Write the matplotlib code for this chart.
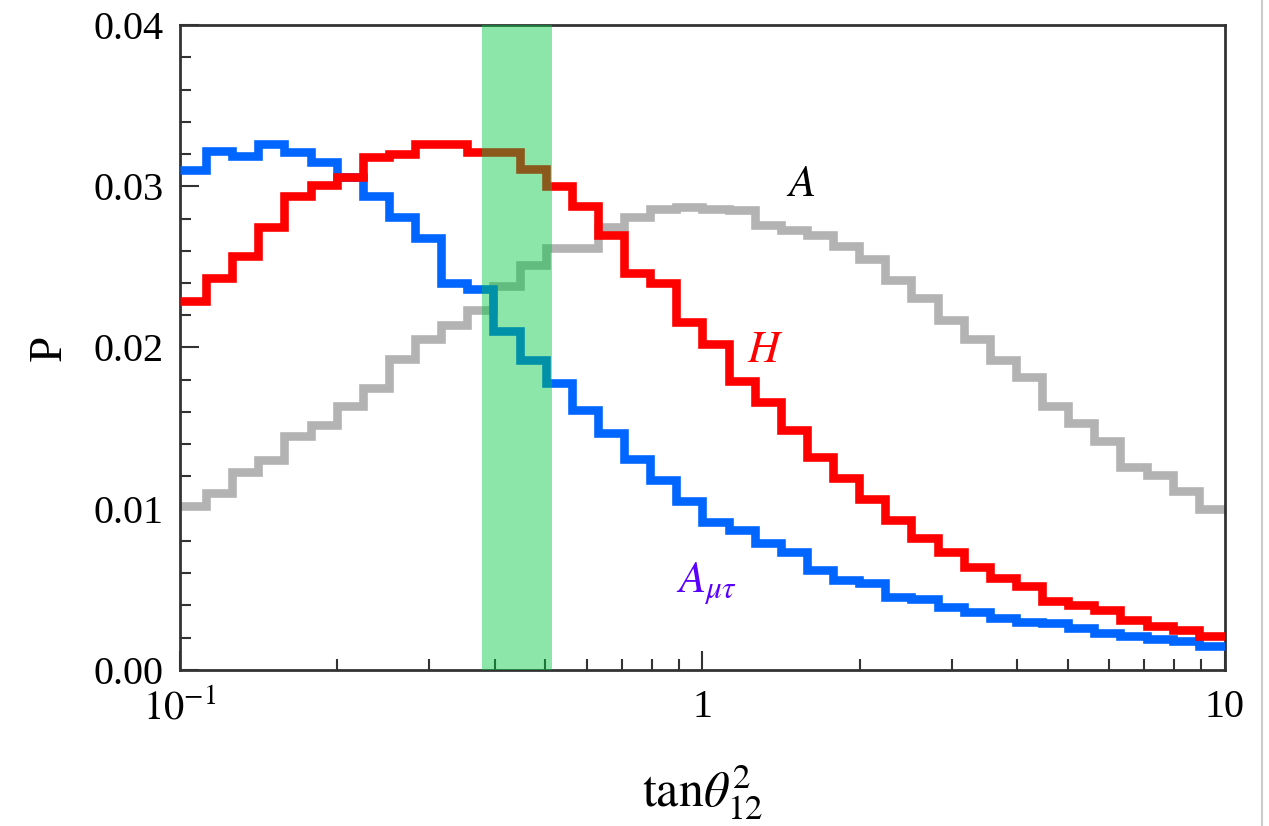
import numpy as np
import matplotlib
matplotlib.use("Agg")
from matplotlib import pyplot as plt
from matplotlib.ticker import FixedLocator, MultipleLocator, LogLocator, NullFormatter

plt.rcParams['font.family'] = ['Liberation Serif', 'DejaVu Serif']
plt.rcParams['mathtext.fontset'] = 'stix'

# histogram bins: 40 log-spaced bins from 0.1 to 10
bin_edges = np.logspace(-1, 1, 41)

A_mutau = [0.0310, 0.0322, 0.0319, 0.0326, 0.0321, 0.0315, 0.0306, 0.0294, 0.0281, 0.0268,
           0.0240, 0.0236, 0.0210, 0.0192, 0.0178, 0.0161, 0.0147, 0.0131, 0.0118, 0.0105,
           0.0092, 0.0087, 0.0079, 0.0073, 0.0062, 0.0056, 0.0054, 0.0045, 0.0044, 0.0039,
           0.0036, 0.0032, 0.0030, 0.0029, 0.0026, 0.0023, 0.0021, 0.0019, 0.0018, 0.0015]

H = [0.0229, 0.0243, 0.0257, 0.0275, 0.0294, 0.0301, 0.0306, 0.0318, 0.0320, 0.0326,
     0.0326, 0.0321, 0.0321, 0.0311, 0.0300, 0.0288, 0.0270, 0.0246, 0.0240, 0.0216,
     0.0202, 0.0179, 0.0166, 0.0149, 0.0132, 0.0119, 0.0106, 0.0093, 0.0082, 0.0073,
     0.0064, 0.0057, 0.0052, 0.0043, 0.0040, 0.0037, 0.0031, 0.0027, 0.0025, 0.0021]

A = [0.0102, 0.0110, 0.0123, 0.0130, 0.0145, 0.0152, 0.0164, 0.0175, 0.0193, 0.0205,
     0.0214, 0.0223, 0.0238, 0.0251, 0.0262, 0.0262, 0.0275, 0.0281, 0.0286, 0.0287,
     0.0286, 0.0285, 0.0276, 0.0273, 0.0270, 0.0263, 0.0255, 0.0242, 0.0231, 0.0217,
     0.0205, 0.0192, 0.0182, 0.0164, 0.0153, 0.0142, 0.0126, 0.0121, 0.0111, 0.0100]

band = (0.378, 0.515)  # experimental range of tan^2 theta_12

y_ticks = [0.0, 0.01, 0.02, 0.03, 0.04]
y_ticklabels = ['0.00', '0.01', '0.02', '0.03', '0.04']
x_ticks = [0.1, 1, 10]
x_ticklabels = ['$10^{-1}$', '1', '10']

fig = plt.figure(figsize=(12.69, 8.26), dpi=100)
ax = fig.add_axes([0.1418, 0.1889, 0.9653 - 0.1418, 0.9697 - 0.1889])

lw = 6.2
ax.stairs(A, bin_edges, baseline=None, color='#b3b3b3', lw=lw, zorder=2)
ax.stairs(A_mutau, bin_edges, baseline=None, color='#0066ff', lw=lw, zorder=3)
ax.stairs(H, bin_edges, baseline=None, color='#ff0000', lw=lw, zorder=4)
ax.axvspan(*band, color=(0.0, 0.78, 0.25), alpha=0.45, lw=0, zorder=5)

ax.text(1.54, 0.0301, '$A$', color='black', fontsize=32, ha='center', va='center')
ax.text(1.32, 0.0198, '$H$', color='red', fontsize=32, ha='center', va='center')
ax.text(1.02, 0.0054, r'$A_{\mu\tau}$', color='#5a00ff', fontsize=32, ha='center', va='center')

ax.set_xscale('log')
ax.set_xlim(0.1, 10)
ax.set_ylim(0, 0.04)

ax.xaxis.set_major_locator(FixedLocator(x_ticks))
ax.set_xticklabels(x_ticklabels)
ax.xaxis.set_minor_locator(LogLocator(base=10, subs=np.arange(2, 10)))
ax.xaxis.set_minor_formatter(NullFormatter())
ax.yaxis.set_major_locator(FixedLocator(y_ticks))
ax.set_yticklabels(y_ticklabels)
ax.yaxis.set_minor_locator(MultipleLocator(0.002))

ax.tick_params(which='both', direction='in', top=False, right=False, labelsize=29,
               color='#333333', width=1.5)
ax.tick_params(which='major', length=14)
ax.tick_params(axis='x', which='major', pad=14)
ax.tick_params(axis='y', which='major', pad=12)
ax.tick_params(which='minor', length=8)
for s in ax.spines.values():
    s.set_color('#333333')
    s.set_linewidth(2)

ax.set_xlabel(r'$\mathrm{tan}\theta_{12}^{2}$', fontsize=36, labelpad=26)
ax.set_ylabel('P', fontsize=34, labelpad=16)

fig.add_artist(plt.Line2D([0.9945, 0.9945], [0, 1], color='#cccccc', lw=1.5))

fig.savefig('out.png', dpi=100)
